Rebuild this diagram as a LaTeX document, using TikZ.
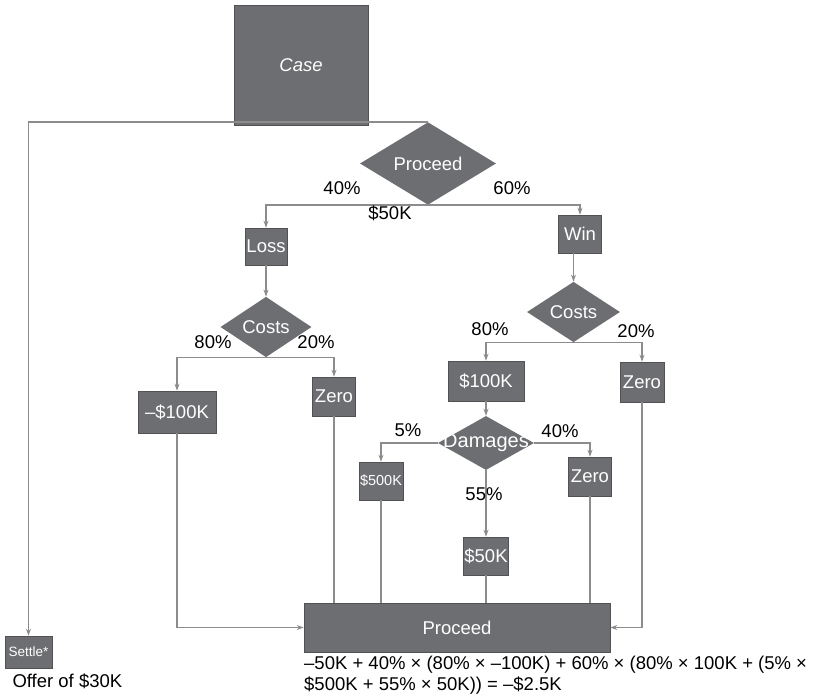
\documentclass[tikz,border=0pt]{standalone}
\usepackage{fontspec}
\setmainfont{Liberation Sans}
\usetikzlibrary{shapes.geometric,arrows.meta}
\definecolor{boxgray}{RGB}{109,110,113}
\definecolor{linegray}{RGB}{140,140,140}

\begin{document}
\begin{tikzpicture}[x=1pt,y=-1pt,
    font=\fontsize{18.5}{21}\selectfont,
    outcome/.style={draw=boxgray!75!black, line width=0.6pt, fill=boxgray,
        text=white, inner sep=0pt},
    chance/.style={diamond, fill=boxgray, text=white, inner sep=0pt},
    link/.style={draw=linegray, line width=1.4pt},
    arr/.style={link, -{Stealth[length=7pt,width=5pt]}}]

    \useasboundingbox (0,0) rectangle (814,697);

    % Case on top
    \node[outcome,
        minimum width=134pt,
        minimum height=120pt,
        font=\fontsize{18.5}{21}\selectfont\itshape] (case) at (301,65){Case};

    % Decision to go on
    \node[chance,
        minimum width=136pt,
        minimum height=75pt] (proceed) at (428,163.5){Proceed};

    \node[outcome, minimum width=42pt, minimum height=37pt] (loss) at (266,246.5){Loss};
    \node[outcome, minimum width=43pt, minimum height=38pt] (win) at (580,234){Win};

    % Costs after a loss
    \node[chance,
        minimum width=91pt,
        minimum height=50pt] (lcosts) at (266,327){Costs};
    \node[outcome, minimum width=78pt, minimum height=42pt] (lneg) at (177,412){–\$100K};
    \node[outcome, minimum width=43pt, minimum height=39pt] (lzero) at (334,396.5){Zero};

    % Costs after a win
    \node[chance,
        minimum width=93pt,
        minimum height=50pt] (rcosts) at (573.5,312){Costs};
    \node[outcome, minimum width=76pt, minimum height=40pt] (gain) at (486,381){\$100K};
    \node[outcome, minimum width=44pt, minimum height=40pt] (rzero) at (642,382){Zero};

    % Damages
    \node[chance,
        minimum width=96pt,
        minimum height=54pt,
        font=\fontsize{20}{22}\selectfont] (damages) at (486,443){\makebox[0pt]{Damages}};
    \node[outcome, minimum width=44pt, minimum height=38pt,
        font=\fontsize{14.5}{16}\selectfont] (dbig) at (381,481){\$500K};
    \node[outcome, minimum width=43pt, minimum height=39pt] (dzero) at (590,476.5){Zero};
    \node[outcome, minimum width=45pt, minimum height=38pt] (dmid) at (486,556){\$50K};

    % Result
    \node[outcome, minimum width=306pt, minimum height=49pt] (result) at (457,627.5){Proceed};
    \node[outcome, minimum width=47pt, minimum height=32pt,
        font=\fontsize{13.5}{15}\selectfont] (settle) at (28.5,652){Settle*};

    % Connectors
    \draw[arr] (proceed.north) -| (settle.north);
    \draw[arr] (proceed.south) -| (loss.north);
    \draw[arr] (proceed.south) -| (win.north);
    \draw[arr] (loss.south) -- (lcosts.north);
    \draw[arr] (rcosts.north |- win.south) -- (rcosts.north);
    \draw[arr] (lcosts.south) -| (lneg.north);
    \draw[arr] (lcosts.south) -| (lzero.north);
    \draw[arr] (rcosts.south) -| (gain.north);
    \draw[arr] (rcosts.south) -| (rzero.north);
    \draw[arr] (gain.south) -- (damages.north);
    \draw[arr] (damages.west) -| (dbig.north);
    \draw[arr] (damages.east) -| (dzero.north);
    \draw[arr] (damages.south) -- (dmid.north);
    \draw[arr] (lneg.south) |- (result.west);
    \draw[arr] (rzero.south) |- (result.east);
    \draw[link] (lzero.south) -- (lzero.south |- result.north);
    \draw[link] (dbig.south) -- (dbig.south |- result.north);
    \draw[link] (dmid.south) -- (dmid.south |- result.north);
    \draw[link] (dzero.south) -- (dzero.south |- result.north);

    % Probabilities
    \node (p40) at (342,188){40\%};
    \node (p60) at (512,188){60\%};
    \node (cost50) at (390,213){\$50K};
    \node (lp80) at (213,342){80\%};
    \node (lp20) at (316,342){20\%};
    \node (rp80) at (490,329){80\%};
    \node (rp20) at (636,331){20\%};
    \node (dp5) at (408,430){5\%};
    \node (dp40) at (560,431){40\%};
    \node (dp55) at (484,494){55\%};

    % Values
    \node[anchor=west] (offer) at (9,681){Offer of \$30K};
    \node[anchor=north west, align=left, inner sep=0pt] (calc) at (304,656)
        {–50K + 40\% × (80\% × –100K) + 60\% × (80\% × 100K + (5\% ×\\
         \$500K + 55\% × 50K)) = –\$2.5K};

\end{tikzpicture}
\end{document}
